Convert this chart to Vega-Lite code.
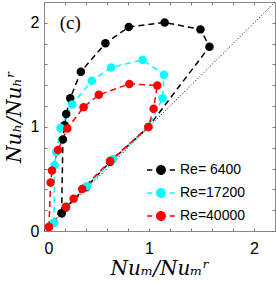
{
  "$schema": "https://vega.github.io/schema/vega-lite/v6.json",
  "autosize": "none",
  "width": 231,
  "height": 229,
  "padding": {"left": 44, "top": 2, "right": 1, "bottom": 53},
  "background": "white",
  "config": {
    "view": {"stroke": "#888888", "strokeWidth": 1},
    "axis": {
      "domain": false,
      "grid": false,
      "ticks": true,
      "tickColor": "#777777",
      "tickSize": -3,
      "tickWidth": 1,
      "labelFont": "Liberation Sans",
      "labelFontSize": 16,
      "labelColor": "#000000",
      "titleFont": "DejaVu Serif",
      "titleFontStyle": "italic",
      "titleFontWeight": "normal",
      "titleFontSize": 20,
      "titleColor": "#000000"
    }
  },
  "datasets": {
    "curves": [
      {"s": "Re= 6400", "o": 0, "x": 0.168, "y": 0.171},
      {"s": "Re= 6400", "o": 1, "x": 0.18, "y": 0.879},
      {"s": "Re= 6400", "o": 2, "x": 0.196, "y": 1.016},
      {"s": "Re= 6400", "o": 3, "x": 0.212, "y": 1.124},
      {"s": "Re= 6400", "o": 4, "x": 0.25, "y": 1.276},
      {"s": "Re= 6400", "o": 5, "x": 0.351, "y": 1.53},
      {"s": "Re= 6400", "o": 6, "x": 0.585, "y": 1.803},
      {"s": "Re= 6400", "o": 7, "x": 0.807, "y": 1.959},
      {"s": "Re= 6400", "o": 8, "x": 1.149, "y": 2.003},
      {"s": "Re= 6400", "o": 9, "x": 1.49, "y": 1.937},
      {"s": "Re= 6400", "o": 10, "x": 1.576, "y": 1.771},
      {"s": "Re= 6400", "o": 11, "x": 0.994, "y": 1.0},
      {"s": "Re= 6400", "o": 12, "x": 0.63, "y": 0.665},
      {"s": "Re= 6400", "o": 13, "x": 0.4, "y": 0.42},
      {"s": "Re= 6400", "o": 14, "x": 0.21, "y": 0.225},
      {"s": "Re= 6400", "o": 15, "x": 0.168, "y": 0.171},
      {"s": "Re=17200", "o": 0, "x": 0.095, "y": 0.079},
      {"s": "Re=17200", "o": 1, "x": 0.101, "y": 0.635},
      {"s": "Re=17200", "o": 2, "x": 0.117, "y": 0.756},
      {"s": "Re=17200", "o": 3, "x": 0.158, "y": 0.99},
      {"s": "Re=17200", "o": 4, "x": 0.269, "y": 1.216},
      {"s": "Re=17200", "o": 5, "x": 0.456, "y": 1.444},
      {"s": "Re=17200", "o": 6, "x": 0.639, "y": 1.571},
      {"s": "Re=17200", "o": 7, "x": 0.94, "y": 1.644},
      {"s": "Re=17200", "o": 8, "x": 1.142, "y": 1.502},
      {"s": "Re=17200", "o": 9, "x": 1.13, "y": 1.276},
      {"s": "Re=17200", "o": 10, "x": 0.994, "y": 1.0},
      {"s": "Re=17200", "o": 11, "x": 0.655, "y": 0.689},
      {"s": "Re=17200", "o": 12, "x": 0.408, "y": 0.429},
      {"s": "Re=17200", "o": 13, "x": 0.212, "y": 0.232},
      {"s": "Re=17200", "o": 14, "x": 0.095, "y": 0.079},
      {"s": "Re=40000", "o": 0, "x": 0.047, "y": 0.038},
      {"s": "Re=40000", "o": 1, "x": 0.063, "y": 0.467},
      {"s": "Re=40000", "o": 2, "x": 0.076, "y": 0.581},
      {"s": "Re=40000", "o": 3, "x": 0.133, "y": 0.778},
      {"s": "Re=40000", "o": 4, "x": 0.222, "y": 0.984},
      {"s": "Re=40000", "o": 5, "x": 0.377, "y": 1.19},
      {"s": "Re=40000", "o": 6, "x": 0.522, "y": 1.308},
      {"s": "Re=40000", "o": 7, "x": 0.813, "y": 1.413},
      {"s": "Re=40000", "o": 8, "x": 1.079, "y": 1.397},
      {"s": "Re=40000", "o": 9, "x": 1.044, "y": 1.175},
      {"s": "Re=40000", "o": 10, "x": 0.994, "y": 1.0},
      {"s": "Re=40000", "o": 11, "x": 0.63, "y": 0.673},
      {"s": "Re=40000", "o": 12, "x": 0.364, "y": 0.403},
      {"s": "Re=40000", "o": 13, "x": 0.282, "y": 0.311},
      {"s": "Re=40000", "o": 14, "x": 0.209, "y": 0.232},
      {"s": "Re=40000", "o": 15, "x": 0.047, "y": 0.038}
    ],
    "diag": [{"d": 0}, {"d": 2.2}],
    "label": [{"x": 0.25, "y": 2.0, "t": "(c)"}]
  },
  "resolve": {"axis": {"x": "independent", "y": "independent"}},
  "layer": [
    {
      "data": {"name": "diag"},
      "mark": {"type": "line", "color": "#000000", "strokeWidth": 1, "strokeDash": [1, 2]},
      "encoding": {
        "x": {"field": "d", "type": "quantitative", "scale": {"domain": [0, 2.2], "nice": false, "zero": false},
          "axis": {"orient": "bottom", "values": [0, 0.2, 0.4, 0.6, 0.8, 1, 1.2, 1.4, 1.6, 1.8, 2],
            "labelExpr": "datum.value == 0 ? '0' : datum.value == 1 ? '1' : datum.value == 2 ? '2' : ''",
            "labelPadding": 12, "title": "Nuₘ/Nuₘʳ", "titlePadding": 2}},
        "y": {"field": "d", "type": "quantitative", "scale": {"domain": [0, 2.2], "nice": false, "zero": false},
          "axis": {"orient": "left", "values": [0, 0.2, 0.4, 0.6, 0.8, 1, 1.2, 1.4, 1.6, 1.8, 2],
            "labelExpr": "datum.value == 0 ? '0' : datum.value == 1 ? '1' : datum.value == 2 ? '2' : ''",
            "labelPadding": 8, "title": "Nuₕ/Nuₕʳ", "titlePadding": 6}}
      }
    },
    {
      "data": {"name": "diag"},
      "mark": {"type": "line", "opacity": 0},
      "encoding": {
        "x": {"field": "d", "type": "quantitative", "scale": {"domain": [0, 2.2], "nice": false, "zero": false},
          "axis": {"orient": "top", "values": [0, 0.2, 0.4, 0.6, 0.8, 1, 1.2, 1.4, 1.6, 1.8, 2], "labels": false, "title": null}},
        "y": {"field": "d", "type": "quantitative", "scale": {"domain": [0, 2.2], "nice": false, "zero": false},
          "axis": {"orient": "right", "values": [0, 0.2, 0.4, 0.6, 0.8, 1, 1.2, 1.4, 1.6, 1.8, 2], "labels": false, "title": null}}
      }
    },
    {
      "data": {"name": "curves"},
      "mark": {"type": "line", "strokeWidth": 1.5, "strokeDash": [6, 4]},
      "encoding": {
        "x": {"field": "x", "type": "quantitative", "axis": null},
        "y": {"field": "y", "type": "quantitative", "axis": null},
        "order": {"field": "o", "type": "quantitative"},
        "color": {"field": "s", "type": "nominal",
          "scale": {"domain": ["Re= 6400", "Re=17200", "Re=40000"], "range": ["#000000", "#00ffff", "#ff0000"]},
          "legend": {
            "title": null,
            "orient": "none",
            "legendX": 102,
            "legendY": 153,
            "symbolType": "M-1,0H-0.62M0.62,0H1M0.3,0A0.3,0.3 0 1,1 -0.3,0A0.3,0.3 0 1,1 0.3,0Z",
            "symbolSize": 784,
            "symbolStrokeWidth": 1.5,
            "symbolDash": [1, 0],
            "labelFont": "Liberation Sans",
            "labelFontSize": 14,
            "labelColor": "#000000",
            "labelOffset": 4,
            "rowPadding": -4.5,
            "encode": {"symbols": {"update": {
              "fill": {"scale": "color", "field": "value"},
              "stroke": {"scale": "color", "field": "value"},
              "strokeDash": {"value": [1, 0]},
              "opacity": {"value": 1}}}}
          }}
      }
    },
    {
      "data": {"name": "curves"},
      "mark": {"type": "point", "filled": true, "size": 72, "opacity": 1, "shape": "circle"},
      "encoding": {
        "x": {"field": "x", "type": "quantitative", "axis": null},
        "y": {"field": "y", "type": "quantitative", "axis": null},
        "color": {"field": "s", "type": "nominal", "legend": null}
      }
    },
    {
      "data": {"name": "label"},
      "mark": {"type": "text", "font": "Liberation Serif", "fontSize": 19, "baseline": "middle", "align": "center", "color": "#000000"},
      "encoding": {
        "x": {"field": "x", "type": "quantitative", "axis": null},
        "y": {"field": "y", "type": "quantitative", "axis": null},
        "text": {"field": "t"}
      }
    }
  ]
}
